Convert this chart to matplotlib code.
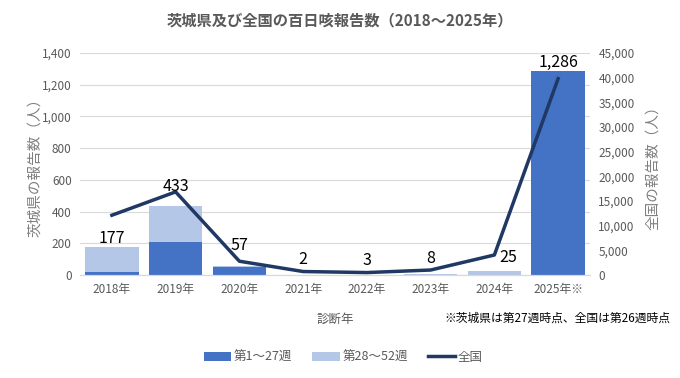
import numpy as np
import matplotlib.pyplot as plt
from matplotlib.ticker import FuncFormatter

plt.rcParams['font.family'] = ['Noto Sans CJK JP', 'DejaVu Sans']

# データ
years = ['2018年', '2019年', '2020年', '2021年', '2022年', '2023年', '2024年', '2025年※']
first_half = [16, 208, 50, 0, 0, 0, 2, 1286]      # 第1～27週
second_half = [161, 225, 7, 2, 3, 8, 23, 0]      # 第28～52週
totals = [177, 433, 57, 2, 3, 8, 25, 1286]
national = [12115, 16850, 2794, 705, 495, 1009, 4054, 39800]

# ラベルのずらし量（pt）
label_dy = [6, 14, 14.5, 11, 10, 11, 9.5, 6.5]
label_dx = [0, 0, 0, 0, 0, 0, 10, 0]

c_dark = '#4472C4'
c_light = '#B4C7E7'
c_line = '#203864'
c_text = '#595959'

fig = plt.figure(figsize=(6.8, 3.78), dpi=100)
ax = fig.add_axes([80/680, 1 - 275/378, 510/680, 222/378])
ax2 = ax.twinx()

x = np.arange(len(years))
ax.bar(x, first_half, width=0.84, color=c_dark, label='第1～27週', zorder=2)
ax.bar(x, second_half, width=0.84, bottom=first_half, color=c_light, label='第28～52週', zorder=2)
ax2.plot(x, national, color=c_line, lw=2.5, label='全国', zorder=3)

# 合計ラベル（折れ線より前面）
for xi, t, dx, dy in zip(x, totals, label_dx, label_dy):
    ax2.annotate(f'{t:,}', xy=(xi, t), xycoords=ax.transData, xytext=(dx, dy),
                 textcoords='offset points', ha='center', va='center',
                 fontsize=11.5, color='black', zorder=5)

ax.set_ylim(0, 1400)
ax.set_yticks(np.arange(0, 1401, 200))
ax2.set_ylim(0, 45000)
ax2.set_yticks(np.arange(0, 45001, 5000))
ax.set_xlim(-0.5, len(years) - 0.5)
ax.set_xticks(x)
ax.set_xticklabels(years)

fmt = FuncFormatter(lambda v, p: f'{int(v):,}')
ax.yaxis.set_major_formatter(fmt)
ax2.yaxis.set_major_formatter(fmt)

ax.grid(axis='y', color='#D9D9D9', lw=0.8, zorder=0)
ax.set_axisbelow(True)
for a in (ax, ax2):
    for s in ('top', 'left', 'right'):
        a.spines[s].set_visible(False)
    a.spines['bottom'].set_color('#D9D9D9')
    a.tick_params(length=0, labelsize=8.5, colors=c_text, pad=6)

ax.set_ylabel('茨城県の報告数（人）', fontsize=10.5, color='#7F7F7F', va='center')
ax.yaxis.set_label_coords(-0.088, 0.5)
ax2.set_ylabel('全国の報告数（人）', fontsize=10.5, color='#7F7F7F', va='center')
ax2.yaxis.set_label_coords(1.123, 0.5)
ax.set_xlabel('診断年', fontsize=9, color=c_text, labelpad=12)

fig.text(0.5, 1 - 20/378, '茨城県及び全国の百日咳報告数（2018～2025年）', ha='center', va='center',
         fontsize=11, fontweight='bold', color=c_text)
fig.text(670/680, 1 - 318/378, '※茨城県は第27週時点、全国は第26週時点', ha='right', va='center',
         fontsize=8.5, color='black')

h1, l1 = ax.get_legend_handles_labels()
h2, l2 = ax2.get_legend_handles_labels()
fig.legend(h1 + h2, l1 + l2, loc='center', bbox_to_anchor=(0.505, 1 - 357/378), ncol=3,
           frameon=False, fontsize=9, labelcolor=c_text, handlelength=2.2, columnspacing=1.6,
           handletextpad=0.2)

fig.savefig('out.png', dpi=100)
